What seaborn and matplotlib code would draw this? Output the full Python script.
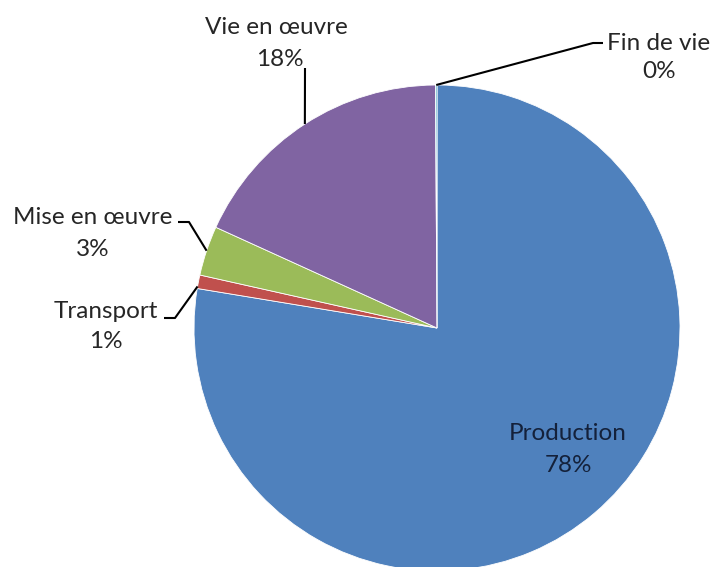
import numpy as np
import matplotlib
matplotlib.use("Agg")
import matplotlib.pyplot as plt
import seaborn as sns

categories = ["Production", "Transport", "Mise en œuvre", "Vie en œuvre", "Fin de vie"]
values = [77.6, 0.9, 3.3, 18.1, 0.1]
pct_labels = ["78%", "1%", "3%", "18%", "0%"]
colors = ["#4F81BD", "#C0504D", "#9BBB59", "#8064A2", "#4BACC6"]

sns.set_theme(style="white")
plt.rcParams["font.family"] = ["Lato", "DejaVu Sans"]

W, H = 712, 567
fig = plt.figure(figsize=(W / 100, H / 100), dpi=100)
ax = fig.add_axes([0, 0, 1, 1])

cx, cy, R = 437, H - 328, 243
wedges, _ = ax.pie(values, colors=colors, startangle=90, counterclock=False,
                   center=(cx, cy), radius=R, frame=True,
                   wedgeprops=dict(edgecolor="white", linewidth=0.6))
ax.set_xlim(0, W)
ax.set_ylim(0, H)
ax.set_aspect("equal")
ax.axis("off")

def edge_point(i, frac=0.5, r=R):
    w = wedges[i]
    a = np.deg2rad(w.theta1 + (w.theta2 - w.theta1) * frac)
    return cx + r * np.cos(a), cy + r * np.sin(a)

fs = 17.5
tc = "#262626"
# Production inside label
ax.text(568, H - 434, "Production", ha="center", va="center", fontsize=fs, color="#14213a")
ax.text(568, H - 466, "78%", ha="center", va="center", fontsize=fs, color="#14213a")

# label positions (pixel layout) and leader line elbows
lab = {
    1: ((106, H - 312), (106, H - 341), [(164, H - 318), (175, H - 318)]),
    2: ((93, H - 218), (93, H - 249), [(178, H - 222), (189, H - 222)]),
    3: ((276, H - 28), (280, H - 60), [(305, H - 68)]),
    4: ((659, H - 43), (659, H - 72), [(603, H - 43), (593, H - 43)]),
}
fracs = {1: 0.85, 2: 0.5, 3: 0.5, 4: 0.5}
for i, ((tx, ty), (px, py), elbow) in lab.items():
    ax.text(tx, ty, categories[i], ha="center", va="center", fontsize=fs, color=tc)
    ax.text(px, py, pct_labels[i], ha="center", va="center", fontsize=fs, color=tc)
    ex, ey = edge_point(i, fracs[i])
    xs = [p[0] for p in elbow] + [ex]
    ys = [p[1] for p in elbow] + [ey]
    ax.plot(xs, ys, color="black", lw=1.5, solid_capstyle="butt")

fig.savefig("out.png", dpi=100)
